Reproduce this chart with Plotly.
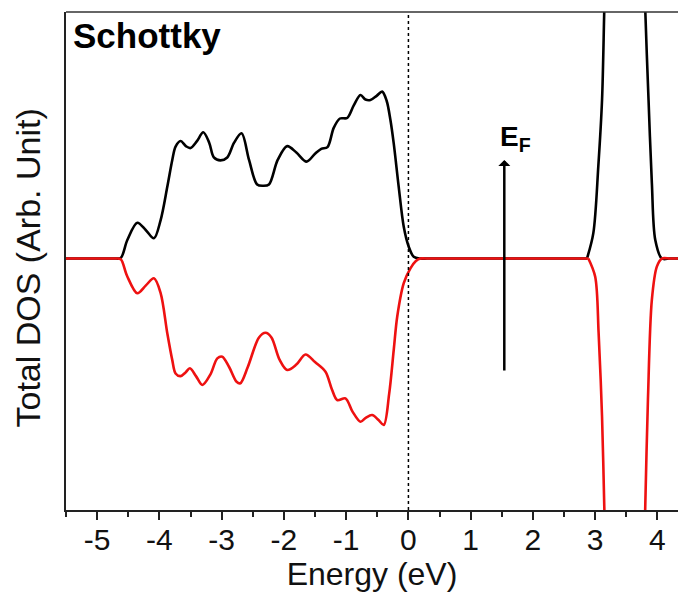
import plotly.graph_objects as go

# Spin-up (black) total DOS, valence band
up_vb_energy = [-5.50, -4.80, -4.70, -4.62, -4.515, -4.355, -4.22, -4.088, -3.98, -3.873,
                -3.793, -3.74, -3.66, -3.57, -3.50, -3.40, -3.295, -3.20, -3.125, -3.02,
                -2.91, -2.80, -2.68, -2.56, -2.43, -2.335, -2.24, -2.10, -1.947, -1.80,
                -1.637, -1.50, -1.40, -1.30, -1.20, -1.10, -0.984, -0.88, -0.77, -0.69,
                -0.61, -0.51, -0.422, -0.35, -0.289, -0.236, -0.156, -0.075, 0.005, 0.085,
                0.19, 0.30, 0.45, 2.60, 2.75, 2.868]
up_vb_dos = [0.0, 0.0, 0.0, 0.002, 0.075, 0.145, 0.116, 0.082, 0.156, 0.291,
             0.40, 0.454, 0.477, 0.455, 0.448, 0.475, 0.512, 0.47, 0.41, 0.398,
             0.41, 0.47, 0.508, 0.40, 0.30, 0.295, 0.30, 0.40, 0.456, 0.43,
             0.393, 0.425, 0.445, 0.452, 0.53, 0.568, 0.57, 0.62, 0.663, 0.645,
             0.643, 0.66, 0.677, 0.64, 0.562, 0.467, 0.291, 0.129, 0.048, 0.007,
             0.0, 0.0, 0.0, 0.0, 0.0, 0.0]

# Spin-up conduction band peak and tail
up_cb_energy = [2.868, 2.97, 3.05, 3.11, 3.146, 3.18, 3.35, 3.50, 3.65, 3.77,
                3.804, 3.857, 3.91, 3.965, 4.07, 4.20, 4.35, 4.50]
up_cb_dos = [0.0, 0.103, 0.374, 0.643, 1.01, 1.35, 2.2, 2.4, 2.2, 1.35,
             1.01, 0.643, 0.307, 0.075, 0.0, 0.0, 0.0, 0.0]

# Spin-down (red) total DOS, valence band
dn_vb_energy = [-5.50, -4.80, -4.70, -4.62, -4.52, -4.355, -4.22, -4.088, -3.98, -3.873,
                -3.793, -3.74, -3.66, -3.58, -3.51, -3.41, -3.31, -3.18, -3.07, -2.99,
                -2.88, -2.76, -2.70, -2.58, -2.40, -2.295, -2.20, -2.07, -1.947, -1.80,
                -1.653, -1.50, -1.332, -1.23, -1.144, -1.011, -0.90, -0.77, -0.68, -0.583,
                -0.48, -0.396, -0.31, -0.236, -0.18, -0.075, 0.032, 0.12, 0.193, 0.30,
                0.45, 2.60, 2.75, 2.89]
dn_vb_dos = [0.0, 0.0, 0.0, -0.003, -0.07, -0.141, -0.11, -0.080, -0.14, -0.303,
             -0.412, -0.466, -0.477, -0.462, -0.445, -0.478, -0.513, -0.47, -0.405, -0.398,
             -0.44, -0.50, -0.506, -0.44, -0.32, -0.301, -0.32, -0.41, -0.452, -0.43,
             -0.389, -0.42, -0.459, -0.53, -0.574, -0.567, -0.62, -0.662, -0.645, -0.635,
             -0.655, -0.675, -0.55, -0.371, -0.236, -0.10, -0.04, -0.01, 0.0, 0.0,
             0.0, 0.0, 0.0, 0.0]

# Spin-down conduction band peak and tail
dn_cb_energy = [2.89, 3.0, 3.055, 3.11, 3.146, 3.18, 3.35, 3.50, 3.65, 3.77,
                3.804, 3.847, 3.91, 3.99, 4.07, 4.20, 4.35, 4.50]
dn_cb_dos = [0.0, -0.074, -0.302, -0.642, -1.007, -1.35, -2.2, -2.4, -2.2, -1.35,
             -1.007, -0.574, -0.168, -0.033, 0.0, 0.0, 0.0, 0.0]

x_ticks = [-5, -4, -3, -2, -1, 0, 1, 2, 3, 4]
x_range = [-5.5, 4.33]
y_range = [-1.02, 1.0]

FONT = "Liberation Sans, Arial, sans-serif"
BLACK = "#000000"
RED = "#ee1111"

fig = go.Figure()

def add_curve(xs, ys, color):
    fig.add_trace(go.Scatter(x=xs, y=ys, mode="lines",
                             line=dict(color=color, width=2.6, shape="spline", smoothing=0.9),
                             showlegend=False, hoverinfo="skip"))

add_curve(up_vb_energy, up_vb_dos, BLACK)
add_curve(up_cb_energy, up_cb_dos, BLACK)
add_curve(dn_vb_energy, dn_vb_dos, RED)
add_curve(dn_cb_energy, dn_cb_dos, RED)

# Fermi level marker at 0 eV
fig.add_shape(type="line", xref="x", yref="paper", x0=0, x1=0, y0=0, y1=1,
              line=dict(color=BLACK, width=1.5, dash="dot"))
# Top frame line (right side left open)
fig.add_shape(type="line", xref="paper", yref="paper", x0=0, x1=1, y0=1, y1=1,
              line=dict(color="#333333", width=1.5))

# Arrow marking E_F
fig.add_annotation(x=1.54, y=0.40, ax=1.54, ay=-0.46, xref="x", yref="y",
                   axref="x", ayref="y", text="", showarrow=True,
                   arrowhead=1, arrowsize=0.8, arrowwidth=2.5, arrowcolor=BLACK)
fig.add_annotation(x=1.445, y=0.485, xref="x", yref="y", xanchor="left", yanchor="middle",
                   text="<b>E<sub>F</sub></b>", showarrow=False,
                   font=dict(family=FONT, size=28, color=BLACK))

fig.add_annotation(x=0.008, y=0.952, xref="paper", yref="paper", xanchor="left",
                   yanchor="middle", text="<b>Schottky</b>", showarrow=False,
                   font=dict(family=FONT, size=35, color=BLACK))

fig.add_annotation(x=-0.062, y=0.485, xref="paper", yref="paper", xanchor="center",
                   yanchor="middle", text="Total DOS (Arb. Unit)", textangle=-90,
                   showarrow=False, font=dict(family=FONT, size=34, color="#111111"))

fig.update_layout(
    width=678, height=598,
    margin=dict(l=66, r=0, t=12, b=88),
    paper_bgcolor="white", plot_bgcolor="white",
    font=dict(family=FONT, color=BLACK),
    xaxis=dict(range=x_range, tickvals=x_ticks, ticktext=[str(v) for v in x_ticks],
               ticks="outside", ticklen=8, tickwidth=1.5, tickcolor="#222222",
               ticklabelstandoff=-6,
               showline=True, linecolor="#222222", linewidth=1.5, mirror=False,
               showgrid=False, zeroline=False,
               tickfont=dict(family=FONT, size=30, color="#111111"),
               minor=dict(dtick=0.5, tick0=0, ticks="outside", ticklen=5,
                          tickwidth=1.5, tickcolor="#222222", showgrid=False),
               title=dict(text="Energy (eV)", font=dict(family=FONT, size=32, color="#111111"),
                          standoff=2)),
    yaxis=dict(range=y_range, showticklabels=False, ticks="", showline=True,
               linecolor="#222222", linewidth=1.5, showgrid=False, zeroline=False),
)

fig.write_html("out.html")
